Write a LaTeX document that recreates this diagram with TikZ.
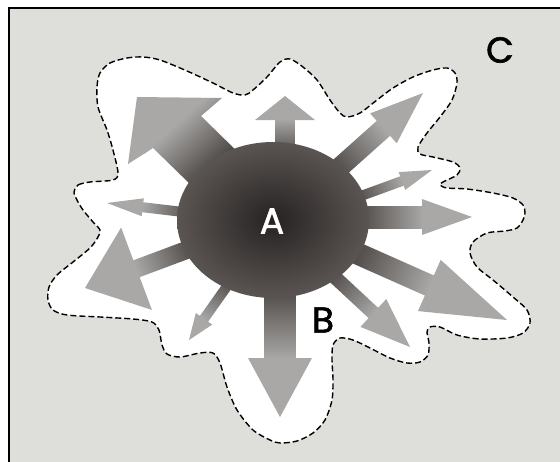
\documentclass[tikz,border=0pt]{standalone}
\usepackage{fontspec}
\setmainfont{Poppins}
\newfontfamily\lblfont{Poppins}[FakeBold=1.6]
\definecolor{bggray}{HTML}{DEDEDA}
\definecolor{arrdark}{HTML}{423D3B}
\definecolor{arrlight}{HTML}{A9A8A6}
\definecolor{balldark}{HTML}{262221}
\definecolor{balledge}{HTML}{5A5553}
% #1,#2 start (inside ball)  #3,#4 tip  #5 shaft half width  #6 head half width  #7 head length
\newcommand\radarrow[7]{%
  \pgfmathsetmacro\aang{atan2(-((#4)-(#2)),(#3)-(#1))}%
  \pgfmathsetmacro\alen{veclen((#3)-(#1),(#4)-(#2))}%
  \pgfmathsetmacro\abase{\alen-(#7)}%
  \begin{scope}[transform canvas={shift={(#1,#2)},rotate=\aang}]
    \shade[left color=arrdark,right color=arrlight] (0,-#5) rectangle (\abase+1,#5);
    \fill[arrlight] (\abase,-#6) -- (\alen,0) -- (\abase,#6) -- cycle;
  \end{scope}}
\begin{document}
\begin{tikzpicture}[x=1pt,y=-1pt,
  lbl/.style={font=\lblfont\fontsize{36}{36}\selectfont, inner sep=0pt},
  blobline/.style={draw=black, line width=1.4pt, dash pattern=on 6pt off 3pt, fill=white}]
\useasboundingbox (0,0) rectangle (560,461);
\fill[white] (0,0) rectangle (560,461);
\fill[bggray] (9,8) rectangle (561,462);
\draw[line width=2pt] (9,462) -- (9,8) -- (561,8);
% blob
\path[blobline] plot[smooth cycle, tension=0.5] coordinates {
(74,192) (78,185) (90,182) (113,180) (118,173) (113,150) (107,130) (98,107) (97,87) (100,73) (110,63) (127,58) (143,57) (160,60) (187,71) (213,83) (233,93) (245,95) (253,90) (267,77) (280,62) (290,59) (303,67) (317,80) (330,100) (340,113) (347,117) (360,113) (377,100) (393,88) (413,77) (433,70) (447,68) (455,73) (457,83) (452,100) (440,117) (427,133) (418,147) (420,154) (433,157) (453,162) (460,168) (457,175) (443,182) (440,185) (447,188) (467,189) (493,193) (513,198) (523,205) (525,213) (523,220) (517,228) (505,231) (487,233) (473,242) (470,253) (477,267) (493,280) (513,297) (527,310) (530,323) (523,333) (507,338) (480,339) (457,335) (440,327) (430,327) (427,332) (429,343) (428,355) (420,362) (407,363) (390,358) (370,348) (353,340) (340,338) (333,345) (332,360) (333,380) (332,400) (325,420) (313,433) (297,441) (280,443) (270,440) (253,430) (237,410) (227,387) (220,363) (213,353) (200,353) (180,357) (167,354) (162,345) (159,330) (152,322) (133,319) (100,317) (67,315) (53,310) (48,300) (49,287) (57,275) (73,262) (90,248) (98,237) (100,230) (93,222) (83,210) (77,200)};
% arrows
\radarrow{285}{160}{285}{96}{9.5}{30}{24}
\radarrow{330}{176}{423}{93}{10}{20}{53}
\radarrow{350}{200}{432}{170}{5}{9.5}{32}
\radarrow{350}{217}{472}{217}{11}{18}{50}
\radarrow{345}{248}{507}{320}{11}{28}{85}
\radarrow{325}{268}{410}{347}{7}{19}{50}
\radarrow{280}{280}{280}{417}{15.5}{32}{59}
\radarrow{235}{275}{189}{340}{5}{10}{26}
\radarrow{200}{245}{85}{288}{9}{44}{55}
\radarrow{200}{214}{107}{203}{5}{9}{36}
\begin{scope}
  \clip (137,97) -- (222,98) -- (201,116) -- (249,163) -- (191,185) -- (153,148) -- (128,164) -- cycle;
  \begin{scope}[transform canvas={shift={(215,175)},rotate=132.5}]
    \shade[left color=arrdark,right color=arrlight] (0,-150) rectangle (64,150);
    \fill[arrlight] (63,-150) rectangle (220,150);
  \end{scope}
\end{scope}
% ball
\shade[inner color=balldark, outer color=balledge] (273,220) ellipse [x radius=96, y radius=78];
% labels
\node[lbl, text=white] (a) at (272,221) {A};
\node[lbl, text=black] (b) at (323,320) {B};
\node[lbl, text=black] (c) at (500,50) {C};
\end{tikzpicture}
\end{document}
